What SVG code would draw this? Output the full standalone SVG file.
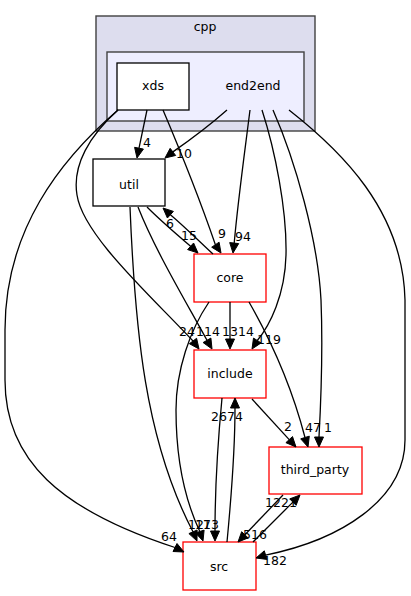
<svg xmlns="http://www.w3.org/2000/svg" width="411" height="596" viewBox="0 0 411 596">
<style>
text{font-family:"DejaVu Sans","Liberation Sans",sans-serif;font-size:12.5px;fill:#000;text-anchor:middle}
.box{fill:#fff;stroke:#000;stroke-width:1.3}
.red{stroke:#ff0000}
.e path{fill:none;stroke:#000;stroke-width:1.3}
.e polygon{fill:#000;stroke:#000;stroke-width:1}
</style>
<rect width="411" height="596" fill="#fff"/>
<g id="cluster_cpp">
<rect x="96" y="16" width="219" height="115" fill="#ddddee" stroke="#404040" stroke-width="1.4"/>
<text x="205" y="31">cpp</text>
</g>
<g id="cluster_end2end">
<rect x="107" y="52" width="197" height="69" fill="#eeeeff" stroke="#404040" stroke-width="1.4"/>
<text x="253" y="90">end2end</text>
</g>
<g id="node_xds"><rect class="box" x="117" y="63" width="72" height="47"/><text x="153" y="90">xds</text></g>
<g id="node_util"><rect class="box" x="93" y="159" width="72" height="47"/><text x="129" y="189">util</text></g>
<g id="node_core"><rect class="box red" x="194" y="254" width="72" height="48"/><text x="230" y="282">core</text></g>
<g id="node_include"><rect class="box red" x="194" y="350" width="72" height="48"/><text x="230" y="378">include</text></g>
<g id="node_third_party"><rect class="box red" x="269" y="447" width="93" height="47"/><text x="315" y="474">third_party</text></g>
<g id="node_src"><rect class="box red" x="183" y="542" width="73" height="48"/><text x="219" y="571">src</text></g>
<g id="edges" class="e">
<path d="M147,110 L139,148.2"/>
<path d="M227,110 C210,125 190,140 172.9,151.9"/>
<path d="M163,110 C180,150 200,200 215.4,244.7"/>
<path d="M250,110 C245,150 238,200 234.2,243.1"/>
<path d="M147,207 C160,220 175,233 190.6,246.3"/>
<path d="M213,254 C200,242 185,227 170.4,214.7"/>
<path d="M118,110 C90,135 72,165 77,195 C83,235 150,295 193,341"/>
<path d="M138,207 C155,250 185,300 207,340.3"/>
<path d="M230,302 L230,339"/>
<path d="M262,110 C275,150 287,210 286,255 C285,295 270,325 257.3,340.5"/>
<path d="M273,110 C295,160 318,240 321,300 C323,350 321,400 319,437"/>
<path d="M249,302 C265,330 290,380 305,437.5"/>
<path d="M252,399 L289.2,439.6"/>
<path d="M118,110 C60,160 5,230 5,330 L5,380 C5,460 60,510 175,547.5"/>
<path d="M289,110 C340,150 403,210 405,300 L405,440 C405,500 340,540 265.6,555.1"/>
<path d="M130,207 C135,330 145,440 193,531.8"/>
<path d="M209,302 C190,330 176,370 176,410 C176,460 185,500 199.8,531.5"/>
<path d="M222,398 C218,440 215,490 215,531"/>
<path d="M227,542 C231,500 235,450 235,408"/>
<path d="M283,495 L244.9,534.8"/>
<path d="M253,542 L292.9,502.1"/>
<g id="labels">
<text x="147" y="147">4</text>
<text x="184" y="158">10</text>
<text x="222" y="238">9</text>
<text x="243" y="241">94</text>
<text x="189" y="240">15</text>
<text x="170" y="228">6</text>
<text x="187" y="336">24</text>
<text x="208" y="336">114</text>
<text x="238" y="336">1314</text>
<text x="269" y="344">119</text>
<text x="328" y="432">1</text>
<text x="313" y="432">47</text>
<text x="288" y="431">2</text>
<text x="169" y="541">64</text>
<text x="275" y="565">182</text>
<text x="196" y="529">12</text>
<text x="203" y="529">17</text>
<text x="211" y="529">13</text>
<text x="227" y="421">2674</text>
<text x="255" y="539">516</text>
<text x="281" y="507">1221</text>
</g>
<polygon points="143.4,149.1 134.6,147.3 137,158"/>
<polygon points="175.65,155.46 170.15,148.34 165,158"/>
<polygon points="219.1,242.2 211.7,247.2 221,253"/>
<polygon points="238.7,243.6 229.7,242.6 233,253"/>
<polygon points="193.6,243 187.6,249.6 198,253"/>
<polygon points="173.4,211.4 167.4,218 163,208"/>
<polygon points="196.6,338.3 189.4,343.7 199,349"/>
<polygon points="210.9,338.05 203.1,342.55 212,349"/>
<polygon points="225.5,339 234.5,339 230,349"/>
<polygon points="261.1,342.9 253.5,338.1 252,349"/>
<polygon points="314.5,437 323.5,437 319,447"/>
<polygon points="309.3,436.15 300.7,438.85 308,447"/>
<polygon points="292.5,436.55 285.9,442.65 296,447"/>
<polygon points="177,543.5 173,551.5 184,552"/>
<polygon points="266.9,559.4 264.3,550.8 256,558"/>
<polygon points="197.1,530 188.9,533.6 197,541"/>
<polygon points="204.1,530.1 195.5,532.9 203,541"/>
<polygon points="210.5,531 219.5,531 215,541"/>
<polygon points="230.5,408 239.5,408 235,398"/>
<polygon points="248.15,537.9 241.65,531.7 238,542"/>
<polygon points="296.1,505.3 289.7,498.9 300,495"/>
</g>
</svg>
